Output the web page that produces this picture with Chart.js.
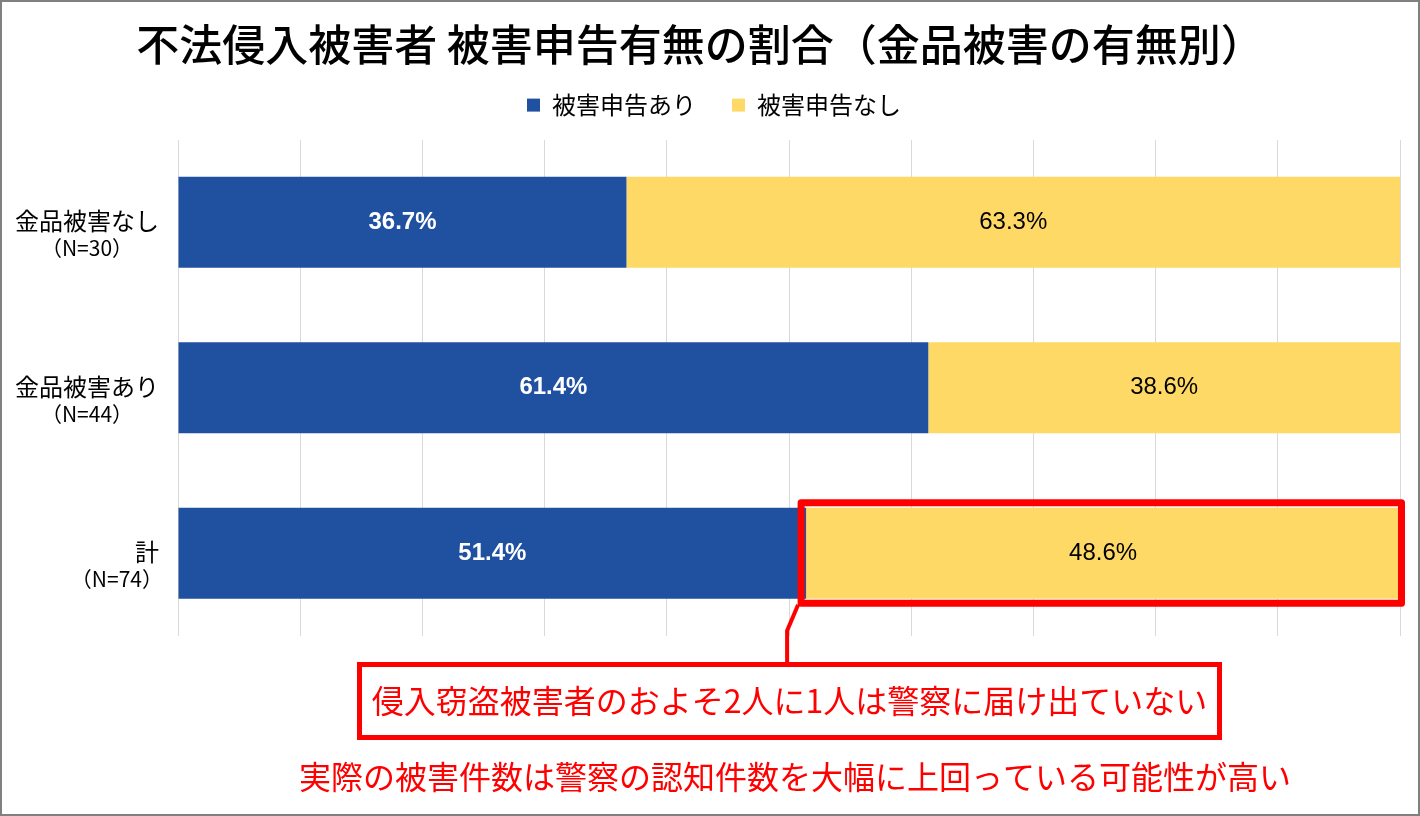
<!DOCTYPE html>
<html lang="ja">
<head>
<meta charset="utf-8">
<script src="https://cdn.jsdelivr.net/npm/chart.js@4.4.1/dist/chart.umd.min.js"></script>
<style>
html,body{margin:0;padding:0;background:#fff;}
#wrap{width:1420px;height:816px;position:relative;}
</style>
</head>
<body>
<div id="wrap"><canvas id="c"></canvas></div>
<script>
// ---- data ----
const titleText = '不法侵入被害者 被害申告有無の割合（金品被害の有無別）';
const categoryNames = ['金品被害なし', '金品被害あり', '計'];
const sampleSizes = ['（N=30）', '（N=44）', '（N=74）'];
const seriesNames = ['被害申告あり', '被害申告なし'];
const reported = [36.7, 61.4, 51.4];
const notReported = [63.3, 38.6, 48.6];
const xTickValues = [0, 10, 20, 30, 40, 50, 60, 70, 80, 90, 100];
const highlightCategory = 2;   // 計
const highlightSeries = 1;     // 被害申告なし
const calloutText = '侵入窃盗被害者のおよそ2人に1人は警察に届け出ていない';
const noteText = '実際の被害件数は警察の認知件数を大幅に上回っている可能性が高い';

const JP = '"Noto Sans CJK JP", "Noto Sans", sans-serif';
const LAT = '"Liberation Sans", Arial, sans-serif';
const BLUE = '#2050A0';
const YELLOW = '#FFD966';
const RED = '#FF0000';

const legendShift = {
  id: 'legendShift',
  afterLayout(chart) {
    if (chart.legend) { chart.legend.left += 14; chart.legend.right += 14; }
  }
};

const decor = {
  id: 'decor',
  afterDraw(chart) {
    const ctx = chart.ctx;
    const area = chart.chartArea;

    // value labels
    chart.data.datasets.forEach((ds, di) => {
      const meta = chart.getDatasetMeta(di);
      meta.data.forEach((bar, i) => {
        const p = bar.getProps(['x', 'y', 'base'], true);
        ctx.save();
        ctx.font = (di === 0 ? 'bold ' : '') + '24px ' + LAT;
        ctx.fillStyle = di === 0 ? '#FFFFFF' : '#000000';
        ctx.textAlign = 'center';
        ctx.textBaseline = 'middle';
        ctx.fillText(ds.data[i].toFixed(1) + '%', (p.x + p.base) / 2, p.y);
        ctx.restore();
      });
    });

    // category labels (two lines)
    const yS = chart.scales.y;
    const R = 159;
    categoryNames.forEach((name, i) => {
      const cy = yS.getPixelForValue(i);
      ctx.save();
      ctx.fillStyle = '#000';
      ctx.textBaseline = 'middle';
      ctx.font = '24px ' + JP;
      const w1 = ctx.measureText(name).width;
      ctx.textAlign = 'right';
      ctx.fillText(name, R, cy - 1);
      ctx.font = '21px ' + JP;
      const w2 = ctx.measureText(sampleSizes[i]).width;
      const c2 = Math.min(R - w1 / 2, R + 4 - w2 / 2);
      ctx.textAlign = 'center';
      ctx.fillText(sampleSizes[i], c2, cy + 26);
      ctx.restore();
    });

    // highlight rectangle around the 計 / 被害申告なし bar
    const hb = chart.getDatasetMeta(highlightSeries).data[highlightCategory];
    const hp = hb.getProps(['x', 'y', 'base', 'height'], true);
    const top = hp.y - hp.height / 2, bottom = hp.y + hp.height / 2;
    ctx.save();
    ctx.strokeStyle = RED;
    ctx.lineJoin = 'round';
    ctx.lineWidth = 7;
    ctx.strokeRect(hp.base - 5, top - 5, (hp.x + 1.5) - (hp.base - 5), (bottom + 4.5) - (top - 5));

    // callout box
    const boxL = 359.5, boxR = 1219.5, boxT = area.bottom + 28.5, boxB = area.bottom + 101.5;
    ctx.fillStyle = '#FFFFFF';
    ctx.fillRect(boxL, boxT, boxR - boxL, boxB - boxT);

    // connector
    ctx.lineWidth = 4;
    ctx.lineJoin = 'miter';
    ctx.beginPath();
    ctx.moveTo(hp.base - 8, bottom + 6);
    ctx.lineTo(hp.base - 19, bottom + 32);
    ctx.lineTo(hp.base - 19, boxT);
    ctx.stroke();

    ctx.lineWidth = 5;
    ctx.strokeRect(boxL, boxT, boxR - boxL, boxB - boxT);

    ctx.fillStyle = RED;
    ctx.textAlign = 'center';
    ctx.textBaseline = 'middle';
    ctx.font = '32px ' + JP;
    ctx.fillText(calloutText, (boxL + boxR) / 2, (boxT + boxB) / 2);
    ctx.fillText(noteText, 795, area.bottom + 141);
    ctx.restore();

    // outer frame
    ctx.save();
    ctx.strokeStyle = '#808080';
    ctx.lineWidth = 2;
    ctx.strokeRect(1, 1, chart.width - 2, chart.height - 2);
    ctx.restore();
  }
};

new Chart(document.getElementById('c'), {
  type: 'bar',
  data: {
    labels: categoryNames,
    datasets: [
      { label: seriesNames[0], data: reported, backgroundColor: BLUE, borderWidth: 0 },
      { label: seriesNames[1], data: notReported, backgroundColor: YELLOW, borderWidth: 0 }
    ]
  },
  options: {
    indexAxis: 'y',
    responsive: true,
    maintainAspectRatio: false,
    animation: false,
    layout: { padding: { left: 0, right: 20, top: 0, bottom: 180 } },
    datasets: { bar: { categoryPercentage: 1.0, barPercentage: 0.55 } },
    scales: {
      x: {
        position: 'top',
        stacked: true,
        min: 0, max: 100,
        afterBuildTicks: (s) => { s.ticks = xTickValues.map(v => ({ value: v })); },
        ticks: { display: false },
        grid: { color: '#D9D9D9', lineWidth: 1, drawTicks: false },
        border: { display: false },
        afterFit: (s) => { s.height = 12.5; }
      },
      y: {
        stacked: true,
        ticks: { display: false },
        grid: { display: false, drawTicks: false },
        border: { display: false },
        afterFit: (s) => { s.width = 178; }
      }
    },
    plugins: {
      title: {
        display: true,
        text: titleText,
        color: '#000',
        font: { family: JP, size: 43, weight: '500' },
        padding: { top: 19, bottom: -13.5 }
      },
      legend: {
        display: true,
        position: 'top',
        labels: {
          color: '#000',
          font: { family: JP, size: 24 },
          boxWidth: 13,
          boxHeight: 13,
          padding: 36
        }
      },
      tooltip: { enabled: false }
    }
  },
  plugins: [legendShift, decor]
});
</script>
</body>
</html>
